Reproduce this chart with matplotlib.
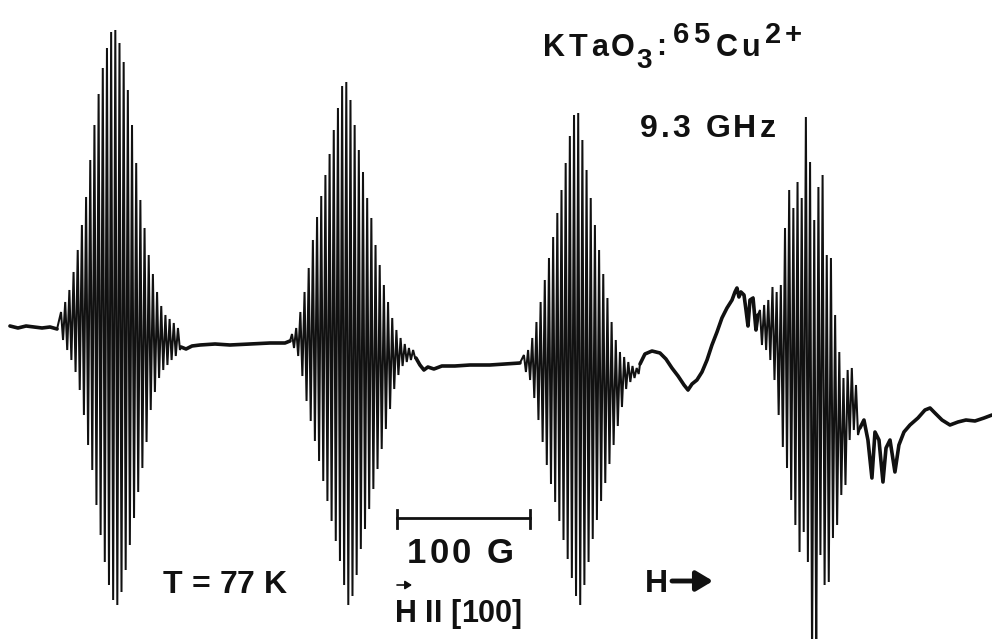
import numpy as np
import matplotlib
matplotlib.use("Agg")
import matplotlib.pyplot as plt
from matplotlib.patches import FancyArrowPatch

plt.rcParams['font.family'] = ['Liberation Sans', 'DejaVu Sans']

# field in gauss (relative), signal in arbitrary recorder units
LINE_STEP = 3.14          # superhyperfine line spacing, G
g1_start, g2_start, g3_start, g4_start = 45.9, 219.6, 394.0, 571.5

# positive / negative excursion of every superhyperfine line
g1_top = [18, 28, 40, 58, 80, 105, 133, 170, 205, 236, 262, 282, 298, 300, 287,
          268, 240, 205, 167, 130, 102, 75, 56, 38, 24, 15, 11, 7, 2]
g1_bot = [-10, -20, -30, -42, -60, -85, -115, -140, -175, -205, -232, -255, -270, -275, -262,
          -240, -215, -188, -162, -138, -112, -80, -62, -48, -40, -35, -30, -26, -20]

g2_top = [-4, 2, 18, 38, 62, 90, 113, 134, 155, 176, 200, 222, 244, 248, 230,
          205, 180, 158, 132, 112, 85, 65, 45, 28, 12, 0, -8, -14, -18, -20]
g2_bot = [-18, -26, -46, -71, -91, -111, -131, -151, -171, -191, -211, -231, -255, -275, -266,
          -245, -219, -199, -179, -159, -139, -119, -99, -79, -59, -45, -36, -32, -30, -28]

g3_top = [-25, -20, -8, 8, 28, 50, 72, 93, 117, 140, 167, 194, 215, 217,
          190, 160, 132, 105, 80, 56, 32, 8, -10, -22, -27, -32, -36, -38]
g3_bot = [-42, -50, -68, -90, -112, -135, -154, -172, -191, -210, -229, -248, -266, -275,
          -255, -232, -209, -190, -171, -153, -134, -115, -96, -77, -59, -52, -48, -44]

g4_top = [20, 25, 30, 43, 38, 45, 102, 140, 122, 148, 132, 213, 168, 110,
          143, 155, 75, 72, 15, -22, -48, -40, -38, -55]
g4_bot = [-15, -20, -30, -50, -85, -117, -138, -170, -195, -222, -202, -232, -330, -330,
          -225, -255, -252, -208, -195, -165, -155, -110, -100, -105]

# recorder trace between the line groups
base0_H = [7.5, 13.5, 19.6, 25.6, 31.6, 37.6, 42.9]
base0_S = [4, 2, 4, 3, 2, 3, 1]
base1_H = [136.1, 139.9, 144.4, 150.4, 161.7, 172.9, 188.0, 203.0, 214.3, 218.1]
base1_S = [-17, -19, -16, -15, -14, -15, -14, -13, -13, -11]
base2_H = [312.8, 315.8, 318.8, 321.8, 326.3, 332.3, 342.1, 353.4, 368.4, 379.7, 391.0]
base2_S = [-28, -35, -40, -37, -39, -36, -36, -35, -35, -34, -33]
base3_H = [481.3, 485.0, 490.3, 496.3, 500.8, 505.3, 509.9, 514.4, 517.4, 520.4, 524.1,
           527.9, 531.7, 535.4, 539.2, 542.9, 546.7, 550.5, 552.7, 554.2, 555.7, 557.2,
           559.5, 561.0, 562.5, 564.0, 566.3, 568.5, 570.0]
base3_S = [-34, -24, -21, -23, -29, -38, -46, -55, -60, -54, -50,
           -42, -30, -15, -2, 12, 22, 30, 38, 42, 33, 38,
           35, 20, 4, 30, 32, 0, 15]
base4_H = [646.7, 649.7, 652.7, 655.7, 658.0, 661.0, 664.0, 666.3, 669.3, 673.0, 676.0,
           679.8, 684.3, 690.3, 695.6, 699.4, 703.1, 708.4, 714.4, 720.4, 726.4, 733.2,
           740.0, 746.0]
base4_S = [-98, -90, -110, -148, -102, -110, -152, -118, -110, -142, -115,
           -102, -95, -88, -80, -78, -83, -90, -95, -92, -90, -91, -88, -85]


def line_group(start, tops, bots):
    n = len(tops)
    pos = start + LINE_STEP * np.arange(n)
    h = np.empty(2 * n)
    s = np.empty(2 * n)
    h[0::2], h[1::2] = pos, pos + 0.48 * LINE_STEP
    s[0::2], s[1::2] = tops, bots
    return h, s


pieces = [
    (np.array(base0_H), np.array(base0_S)),
    line_group(g1_start, g1_top, g1_bot),
    (np.array(base1_H), np.array(base1_S)),
    line_group(g2_start, g2_top, g2_bot),
    (np.array(base2_H), np.array(base2_S)),
    line_group(g3_start, g3_top, g3_bot),
    (np.array(base3_H), np.array(base3_S)),
    line_group(g4_start, g4_top, g4_bot),
    (np.array(base4_H), np.array(base4_S)),
]
H = np.concatenate([p[0] for p in pieces])
S = np.concatenate([p[1] for p in pieces])

W, Hpx = 992, 639
fig = plt.figure(figsize=(W / 100, Hpx / 100), dpi=100)
ax = fig.add_axes([0, 0, 1, 1])
ax.set_xlim(0, 746)
ax.set_ylim(-309, 330)
ax.axis('off')

ink = '#111111'
ax.plot(H, S, color=ink, lw=1.45, solid_joinstyle='miter')
# pen trace is thicker on the flat parts
for h, s in pieces[0::2]:
    ax.plot(h, s, color=ink, lw=2.6, solid_capstyle='round')

# 100 G scale bar
bar_H = [298.5, 398.5]
bar_S = -188
ax.plot(bar_H, [bar_S, bar_S], color=ink, lw=2.0)
for hb in bar_H:
    ax.plot([hb, hb], [bar_S + 8, bar_S - 10], color=ink, lw=2.0)

renderer = fig.canvas.get_renderer()


def tracked(x, y, s, size=23, track=0.0):
    # letter-spaced bold label, x/y in pixels from the top-left corner
    for ch in s:
        if ch == ' ':
            x += 0.28 * size * 100 / 72 + track
            continue
        t = fig.text(x / W, 1 - y / Hpx, ch, fontsize=size, fontweight='bold',
                     color=ink, va='baseline', ha='left')
        x += t.get_window_extent(renderer).width + track
    return x


tracked(407, 563, '100 G', size=25, track=3)
tracked(163, 593, 'T = 77 K')
tracked(640, 137, '9.3 GHz', track=3)
tracked(645, 592, 'H')
tracked(395, 622, 'H II [100]', size=22)

# title KTaO3:65Cu2+
x = tracked(543, 56, 'K', size=22, track=4)
x = tracked(x, 56, 'TaO', size=22, track=3)
x = tracked(x - 1, 68, '3', size=20, track=4)
x = tracked(x, 55, ':', size=22, track=7)
x = tracked(x, 43, '65', size=21, track=4)
x = tracked(x + 2, 56, 'Cu', size=22, track=4)
tracked(x + 1, 43, '2+', size=21, track=3)

# arrows
fig.patches.append(FancyArrowPatch(
    (672, Hpx - 581), (713, Hpx - 581), transform=None,
    arrowstyle='-|>,head_length=10,head_width=6',
    color=ink, lw=3.5, shrinkA=0, shrinkB=0))
fig.patches.append(FancyArrowPatch(
    (397, Hpx - 585), (412, Hpx - 585), transform=None,
    arrowstyle='-|>,head_length=4,head_width=2.5',
    color=ink, lw=1.2, shrinkA=0, shrinkB=0))

fig.savefig('out.png', dpi=100, facecolor='white')
